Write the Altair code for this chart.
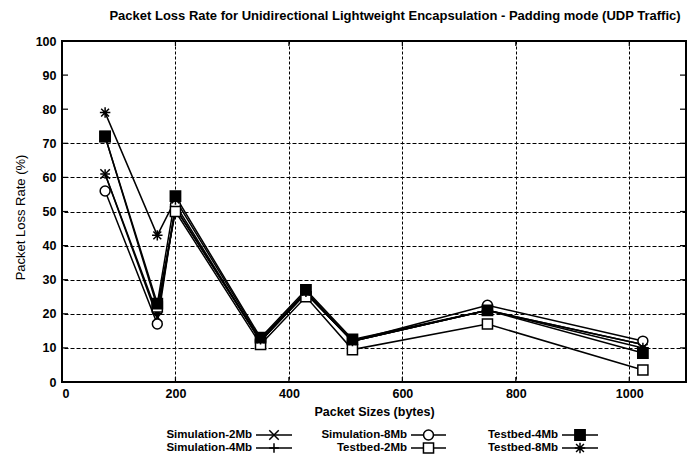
import altair as alt
import pandas as pd

# ---------------- data ----------------
packet_sizes = [76, 168, 200, 350, 430, 512, 750, 1024]
series_names = ["Simulation-2Mb", "Simulation-4Mb", "Simulation-8Mb",
                "Testbed-2Mb", "Testbed-4Mb", "Testbed-8Mb"]
sim_2mb = [61, 19, 51, 12, 26, 12, 21, 11]
sim_4mb = [61, 20, 51, 12, 26, 12, 21, 11]
sim_8mb = [56, 17, 52, 12, 26, 12, 22.5, 12]
tb_2mb = [72, 22, 50, 11, 25, 9.5, 17, 3.5]
tb_4mb = [72, 23, 54.5, 13, 27, 12.5, 21, 8.5]
tb_8mb = [79, 43, 53.5, 12.5, 26.5, 12, 21, 10]
x_ticks = [0, 200, 400, 600, 800, 1000]
y_ticks = [0, 10, 20, 30, 40, 50, 60, 70, 80, 90, 100]
y_grid = [10, 20, 30, 40, 50, 60, 70]

title_text = "Packet Loss Rate for Unidirectional Lightweight Encapsulation - Padding mode (UDP Traffic)"
x_title = "Packet Sizes (bytes)"
y_title = "Packet Loss Rate (%)"

# ---------------- styles ----------------
FONT = "Liberation Sans"
W, H = 624, 341
shape_range = [
    "M-1,-1L1,1M-1,1L1,-1",                 # x
    "M-1,0L1,0M0,-1L0,1",                   # +
    "circle",
    "square",
    "square",
    "M-1,0L1,0M0,-1L0,1M-0.75,-0.75L0.75,0.75M-0.75,0.75L0.75,-0.75",  # asterisk
]
fill_range = ["white", "white", "white", "white", "black", "black"]
size_range = [90, 110, 70, 95, 95, 130]

shape_scale = alt.Scale(domain=series_names, range=shape_range)
fill_scale = alt.Scale(domain=series_names, range=fill_range)
size_scale = alt.Scale(domain=series_names, range=size_range)

all_values = [sim_2mb, sim_4mb, sim_8mb, tb_2mb, tb_4mb, tb_8mb]
rows = []
for name, vals in zip(series_names, all_values):
    for xs, v in zip(packet_sizes, vals):
        rows.append({"series": name, "size": xs, "loss": v})
df = pd.DataFrame(rows)


def xscale():
    return alt.Scale(domain=[0, 1100], nice=False, zero=False)


def yscale():
    return alt.Scale(domain=[0, 100], nice=False, zero=False)


lines = alt.Chart(df).mark_line(color="black", strokeWidth=1.5).encode(
    x=alt.X("size:Q", scale=xscale(),
            axis=alt.Axis(values=x_ticks, format="d", grid=True, gridDash=[3, 2],
                          gridColor="black", gridWidth=1, gridOpacity=1, ticks=False,
                          domain=False, labelPadding=5, labelFontSize=12.5,
                          labelFontWeight="bold", labelFont=FONT, labelColor="black",
                          title=x_title, titleX=W / 2, titleY=29, titleBaseline="middle",
                          titleFont=FONT, titleColor="black",
                          titleFontSize=12.5, titleFontWeight="bold")),
    y=alt.Y("loss:Q", scale=yscale(),
            axis=alt.Axis(values=y_ticks, grid=False, ticks=False, domain=False,
                          labelPadding=6, labelFontSize=12.5, labelFontWeight="bold",
                          labelFont=FONT, labelColor="black",
                          title=y_title, titleX=-42, titleY=176, titleBaseline="middle",
                          titleFont=FONT, titleColor="black",
                          titleAngle=270, titleFontSize=13, titleFontWeight="normal")),
    detail="series:N",
    order="size:Q",
)

points = alt.Chart(df).mark_point(stroke="black", strokeWidth=1.5, opacity=1,
                                  fillOpacity=1).encode(
    x=alt.X("size:Q", scale=xscale(), axis=None),
    y=alt.Y("loss:Q", scale=yscale(),
            axis=alt.Axis(orient="right", values=y_grid, grid=True, gridDash=[4, 2],
                          gridColor="black", gridWidth=1, gridOpacity=1, labels=False,
                          ticks=False, domain=False, title=None)),
    shape=alt.Shape("series:N", scale=shape_scale, legend=None),
    fill=alt.Fill("series:N", scale=fill_scale, legend=None),
    size=alt.Size("series:N", scale=size_scale, legend=None),
)

# inward tick marks on the frame
ytick_df = pd.DataFrame({"v": y_ticks[1:-1]})
xtick_df = pd.DataFrame({"v": x_ticks[1:]})
yt_left = alt.Chart(ytick_df).mark_rule(color="black", strokeWidth=1.2).encode(
    y=alt.Y("v:Q", scale=yscale(), axis=None), x=alt.value(0), x2=alt.value(6))
yt_right = alt.Chart(ytick_df).mark_rule(color="black", strokeWidth=1.2).encode(
    y=alt.Y("v:Q", scale=yscale(), axis=None), x=alt.value(W - 6), x2=alt.value(W))
xt_bot = alt.Chart(xtick_df).mark_rule(color="black", strokeWidth=1.2).encode(
    x=alt.X("v:Q", scale=xscale(), axis=None), y=alt.value(H - 5), y2=alt.value(H))
xt_top = alt.Chart(xtick_df).mark_rule(color="black", strokeWidth=1.2).encode(
    x=alt.X("v:Q", scale=xscale(), axis=None), y=alt.value(0), y2=alt.value(5))

# chart title drawn as a text layer above the frame
title_layer = alt.Chart(pd.DataFrame({"t": [title_text]})).mark_text(
    align="center", baseline="middle", font=FONT, fontSize=13,
    fontWeight="bold", color="black"
).encode(x=alt.value(W / 2 + 21), y=alt.value(-25), text="t:N")

# ---------------- legend (gnuplot-style key below the plot) ----------------
leg_df = pd.DataFrame({"series": series_names,
                       "idx": list(range(len(series_names)))})


def px_x():
    return alt.Scale(domain=[0, W], range=[0, W], nice=False, zero=False)


def px_y():
    return alt.Scale(domain=[0, H], range=[0, H], nice=False, zero=False)


leg_base = alt.Chart(leg_df).transform_calculate(
    col="floor(datum.idx / 2)",
    row="datum.idx % 2",
).transform_calculate(
    tx="[190, 345, 496][datum.col]",
    lx1="[194, 349, 500][datum.col]",
    lx2="[230, 384, 536][datum.col]",
    ly="394 + 13 * datum.row",
).transform_calculate(
    mx="(datum.lx1 + datum.lx2) / 2",
)
leg_text = leg_base.mark_text(align="right", baseline="middle", font=FONT,
                              fontSize=11.5, fontWeight="bold", color="black").encode(
    x=alt.X("tx:Q", scale=px_x(), axis=None),
    y=alt.Y("ly:Q", scale=px_y(), axis=None),
    text="series:N",
)
leg_line = leg_base.mark_rule(color="black", strokeWidth=1.5).encode(
    x=alt.X("lx1:Q", scale=px_x(), axis=None),
    x2="lx2:Q",
    y=alt.Y("ly:Q", scale=px_y(), axis=None),
)
leg_pt = leg_base.mark_point(stroke="black", strokeWidth=1.5, opacity=1,
                             fillOpacity=1).encode(
    x=alt.X("mx:Q", scale=px_x(), axis=None),
    y=alt.Y("ly:Q", scale=px_y(), axis=None),
    shape=alt.Shape("series:N", scale=shape_scale, legend=None),
    fill=alt.Fill("series:N", scale=fill_scale, legend=None),
    size=alt.Size("series:N", scale=size_scale, legend=None),
)

chart = alt.layer(
    lines, points, yt_left, yt_right, xt_bot, xt_top, title_layer,
    leg_line, leg_pt, leg_text
).resolve_scale(
    x="independent", y="independent"
).properties(
    width=W, height=H,
    autosize=alt.AutoSizeParams(type="none"),
    padding={"left": 54, "top": 33, "right": 2, "bottom": 72},
    background="white",
).configure_view(
    stroke="black", strokeWidth=2
)

chart.save("out.html", embed_options={"renderer": "svg", "actions": False})
